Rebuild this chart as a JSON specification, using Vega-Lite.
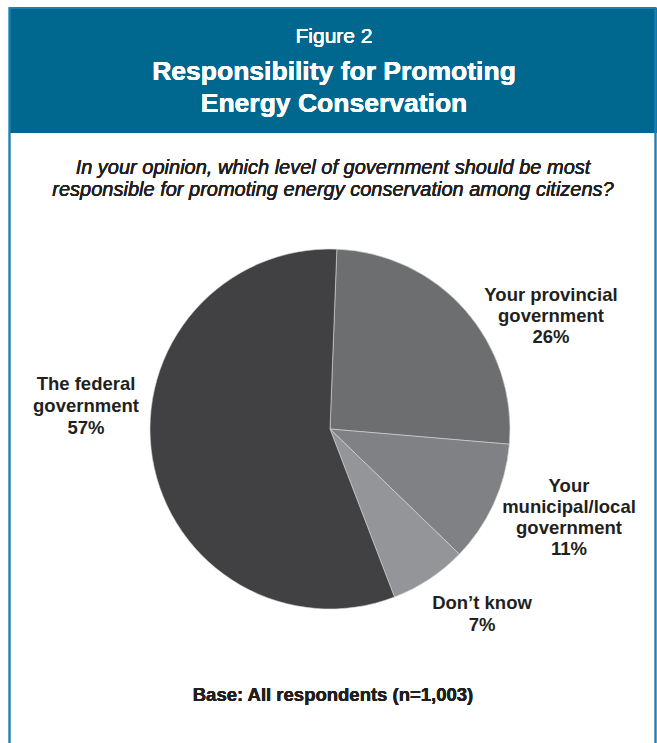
{
  "$schema": "https://vega.github.io/schema/vega-lite/v6.json",
  "width": 657,
  "height": 743,
  "autosize": {"type": "fit", "contains": "padding"},
  "padding": 0,
  "background": "white",
  "config": {"view": {"stroke": null}, "font": "Liberation Sans"},
  "data": {"values": [
    {"category": "Your provincial government", "share": 26, "order": 1},
    {"category": "Your municipal/local government", "share": 11, "order": 2},
    {"category": "Don't know", "share": 7, "order": 3},
    {"category": "The federal government", "share": 57, "order": 4}
  ]},
  "layer": [
    {
      "mark": {"type": "rect", "x": 9, "x2": 657, "y": 8, "y2": 133, "fill": "#00678f"},
      "encoding": {}
    },
    {
      "mark": {"type": "rect", "x": 9.5, "x2": 655.5, "y": 8, "y2": 760, "fill": null, "stroke": "#1f7fb3", "strokeWidth": 1.5},
      "encoding": {}
    },
    {
      "mark": {"type": "text", "x": 334, "y": 37, "text": "Figure 2", "fontSize": 21, "fontWeight": "normal", "color": "white", "align": "center", "baseline": "middle"},
      "encoding": {}
    },
    {
      "mark": {"type": "text", "x": 334, "y": 72, "text": ["Responsibility for Promoting", "Energy Conservation"], "lineHeight": 32, "fontSize": 26.5, "fontWeight": "bold", "color": "white", "align": "center", "baseline": "middle"},
      "encoding": {}
    },
    {
      "mark": {"type": "text", "x": 333, "y": 168, "text": ["In your opinion, which level of government should be most", "responsible for promoting energy conservation among citizens?"], "lineHeight": 22, "fontSize": 20, "fontStyle": "italic", "fontWeight": "normal", "color": "#231f20", "align": "center", "baseline": "middle"},
      "encoding": {}
    },
    {
      "mark": {"type": "text", "x": 333, "y": 695, "text": "Base: All respondents (n=1,003)", "fontSize": 18.5, "fontWeight": "bold", "color": "#231f20", "align": "center", "baseline": "middle"},
      "encoding": {}
    },
    {
      "mark": {"type": "arc", "x": 330, "y": 429, "outerRadius": 180, "stroke": "#d8d8d8", "strokeWidth": 0.6},
      "encoding": {
        "theta": {"field": "share", "type": "quantitative", "stack": true, "scale": {"range": [0.038, 6.3212]}},
        "order": {"field": "order", "type": "quantitative"},
        "color": {"field": "category", "type": "nominal", "legend": null,
          "scale": {"domain": ["Your provincial government", "Your municipal/local government", "Don't know", "The federal government"],
                    "range": ["#6d6e70", "#808184", "#939598", "#414042"]}}
      }
    },
    {
      "transform": [{"filter": "datum.order == 4"}, {"calculate": "['The federal', 'government', datum.share + '%']", "as": "label"}],
      "mark": {"type": "text", "x": 86, "y": 384, "lineHeight": 22, "fontSize": 18.5, "fontWeight": "bold", "color": "#231f20", "align": "center", "baseline": "middle"},
      "encoding": {"text": {"field": "label"}}
    },
    {
      "transform": [{"filter": "datum.order == 1"}, {"calculate": "['Your provincial', 'government', datum.share + '%']", "as": "label"}],
      "mark": {"type": "text", "x": 551, "y": 295, "lineHeight": 21, "fontSize": 18.5, "fontWeight": "bold", "color": "#231f20", "align": "center", "baseline": "middle"},
      "encoding": {"text": {"field": "label"}}
    },
    {
      "transform": [{"filter": "datum.order == 2"}, {"calculate": "['Your', 'municipal/local', 'government', datum.share + '%']", "as": "label"}],
      "mark": {"type": "text", "x": 569, "y": 486, "lineHeight": 21, "fontSize": 18.5, "fontWeight": "bold", "color": "#231f20", "align": "center", "baseline": "middle"},
      "encoding": {"text": {"field": "label"}}
    },
    {
      "transform": [{"filter": "datum.order == 3"}, {"calculate": "['Don’t know', datum.share + '%']", "as": "label"}],
      "mark": {"type": "text", "x": 482, "y": 603, "lineHeight": 22, "fontSize": 18.5, "fontWeight": "bold", "color": "#231f20", "align": "center", "baseline": "middle"},
      "encoding": {"text": {"field": "label"}}
    }
  ]
}
